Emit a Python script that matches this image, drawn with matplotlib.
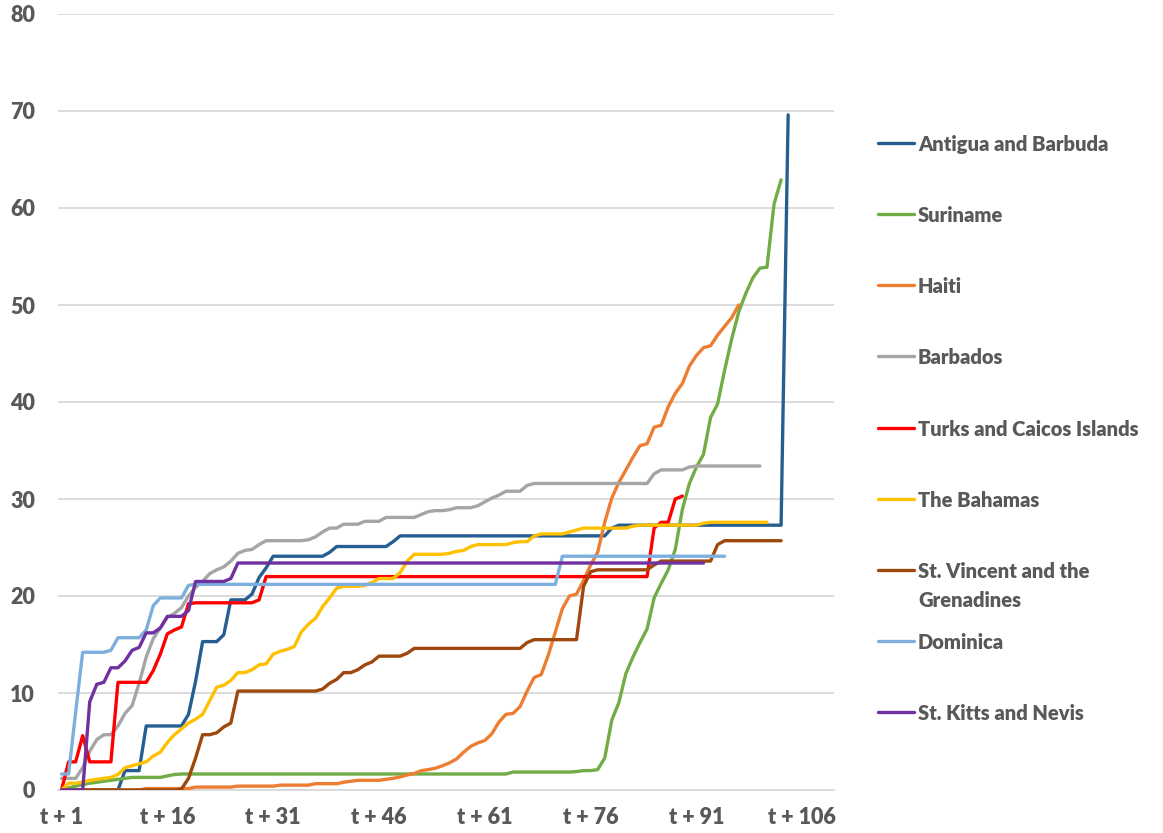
import numpy as np
import matplotlib
matplotlib.use("Agg")
import matplotlib.pyplot as plt
from matplotlib.lines import Line2D

plt.rcParams['font.family'] = ['Lato', 'DejaVu Sans']
plt.rcParams['font.weight'] = 'bold'

# ---------------- data ----------------
n_categories = 110
tick_positions = [0, 15, 30, 45, 60, 75, 90, 105]
tick_labels = ["t + 1", "t + 16", "t + 31", "t + 46", "t + 61", "t + 76", "t + 91", "t + 106"]

antigua = ([0]*9 + [2.0, 2.0, 2.0] + [6.6]*6 + [7.8, 11.2]
           + [15.3]*3 + [16.0] + [19.6]*3 + [20.2, 21.9, 22.9]
           + [24.1]*8 + [24.5] + [25.1]*8 + [25.6]
           + [26.2]*30 + [27.0] + [27.3]*24 + [69.6])

suriname = ([0, 0.2, 0.4, 0.55, 0.7, 0.8, 0.9, 1.0, 1.1, 1.2]
            + [1.3]*5 + [1.45, 1.6] + [1.65]*47 + [1.85]*9
            + [1.9, 2.0, 2.0, 2.1, 3.3, 7.2, 9.0, 12.0, 13.7, 15.2,
               16.6, 19.8, 21.3, 22.7, 24.8, 28.9, 31.6, 33.3, 34.6, 38.4,
               39.8, 43.3, 46.5, 49.3, 51.2, 52.8, 53.8, 53.9, 60.4, 62.9])

haiti = ([0]*12 + [0.15]*7 + [0.3]*6 + [0.4]*6 + [0.5]*5 + [0.65]*4
         + [0.8, 0.9, 1.0, 1.0, 1.0, 1.0]
         + [1.1, 1.2, 1.35, 1.55, 1.7, 2.0, 2.1, 2.25, 2.5, 2.8,
            3.2, 3.9, 4.5, 4.85, 5.1, 5.8, 7.0, 7.8, 7.9, 8.6,
            10.2, 11.6, 11.9, 13.9, 16.3, 18.7, 20.0, 20.2, 21.6, 23.2,
            24.5, 27.6, 30.1, 31.7, 33.0, 34.3, 35.5, 35.7, 37.4, 37.6,
            39.5, 40.9, 41.9, 43.7, 44.8, 45.6, 45.8, 46.9, 47.8, 48.7, 50.0])

barbados = ([1.2, 1.2, 1.2, 2.3, 4.0, 5.2, 5.7, 5.7, 6.6, 7.9,
             8.7, 11.0, 13.7, 15.6, 16.7, 17.8, 18.2, 18.8, 20.0, 20.9,
             21.5, 22.3, 22.7, 23.0, 23.6, 24.4, 24.7, 24.8, 25.3, 25.7]
            + [25.7]*5
            + [25.8, 26.1, 26.6, 27.0, 27.0, 27.4, 27.4, 27.4, 27.7, 27.7,
               27.7, 28.1, 28.1, 28.1, 28.1, 28.1, 28.4, 28.7, 28.8, 28.8, 28.9,
               29.1, 29.1, 29.1, 29.3, 29.7, 30.1, 30.4, 30.8, 30.8, 30.8, 31.4]
            + [31.6]*17 + [32.6, 33.0, 33.0, 33.0, 33.0, 33.3] + [33.4]*10)

turks_caicos = ([0, 2.9, 2.9, 5.6, 2.9, 2.9, 2.9, 2.9] + [11.1]*5
                + [12.3, 14.0, 16.1, 16.5, 16.8, 19.2] + [19.3]*9 + [19.6]
                + [22.0]*55 + [27.0, 27.6, 27.6, 30.0, 30.3])

bahamas = ([0, 0.7, 0.7, 0.8, 1.0, 1.1, 1.2, 1.3, 1.6, 2.3,
            2.5, 2.7, 2.9, 3.5, 3.9, 4.9, 5.7, 6.3, 6.9, 7.3,
            7.8, 9.2, 10.6, 10.8, 11.3, 12.1, 12.1, 12.4, 12.9, 13.0,
            14.0, 14.3, 14.5, 14.8, 16.3, 17.1, 17.7, 18.9, 19.8, 20.8,
            21.0, 21.0, 21.0, 21.1, 21.4, 21.8, 21.8, 21.8, 22.4, 23.6,
            24.3, 24.3, 24.3, 24.3, 24.3, 24.4, 24.6, 24.7, 25.1, 25.3]
           + [25.3]*4 + [25.5, 25.6, 25.6, 26.2, 26.4] + [26.4]*3
           + [26.6, 26.8, 27.0] + [27.0]*6 + [27.2] + [27.3]*9 + [27.5] + [27.6]*9)

st_vincent = ([0]*17 + [0.1, 1.2, 3.3, 5.7, 5.7, 5.9, 6.5, 6.9, 10.2]
              + [10.2]*11
              + [10.4, 11.0, 11.4, 12.1, 12.1, 12.4, 12.9, 13.2, 13.8]
              + [13.8]*3 + [14.1, 14.6] + [14.6]*15 + [15.2] + [15.5]*7
              + [21.0, 22.5] + [22.7]*8 + [23.2] + [23.6]*8 + [25.3] + [25.7]*9)

dominica = ([1.65, 1.65, 8.0, 14.2] + [14.2]*3 + [14.4, 15.7] + [15.7]*3
            + [16.5, 19.0, 19.8] + [19.8]*3 + [21.1] + [21.2]*52 + [24.1]*24)

st_kitts = ([0, 0, 0, 0, 9.1, 10.9, 11.1, 12.6, 12.6, 13.3,
             14.4, 14.7, 16.2, 16.2, 16.7, 17.9, 17.9, 17.9, 18.5, 21.5]
            + [21.5]*4 + [21.8] + [23.4]*67)

series_names = ["Antigua and Barbuda", "Suriname", "Haiti", "Barbados",
                "Turks and Caicos Islands", "The Bahamas",
                "St. Vincent and the\nGrenadines", "Dominica", "St. Kitts and Nevis"]
series_values = [antigua, suriname, haiti, barbados, turks_caicos, bahamas,
                 st_vincent, dominica, st_kitts]
series_colors = ["#255E91", "#70AD47", "#ED7D31", "#A5A5A5", "#FF0000",
                 "#FFC000", "#9E480E", "#7CAFDD", "#7030A0"]
y_ticks = [0, 10, 20, 30, 40, 50, 60, 70, 80]

# ---------------- figure ----------------
W, H = 1163, 833
fig = plt.figure(figsize=(W / 100, H / 100), dpi=100)
left_px, right_px, top_px, bottom_px = 58, 834, 14, 790
ax = fig.add_axes([left_px / W, 1 - bottom_px / H,
                   (right_px - left_px) / W, (bottom_px - top_px) / H])

text_color = "#595959"
grid_color = "#D9D9D9"

for vals, col in zip(series_values, series_colors):
    x = np.arange(len(vals))
    ax.plot(x, vals, color=col, lw=2.4, solid_joinstyle='round',
            solid_capstyle='round', zorder=3)

ax.set_xlim(-0.5, n_categories - 0.5)
ax.set_ylim(0, 80)
ax.set_yticks(y_ticks)
ax.set_yticklabels([str(v) for v in y_ticks])
ax.set_xticks(tick_positions)
ax.set_xticklabels(tick_labels)
ax.yaxis.grid(True, color=grid_color, lw=1.3, zorder=0)
ax.set_axisbelow(True)
for s in ["top", "right", "left"]:
    ax.spines[s].set_visible(False)
ax.spines["bottom"].set_color(grid_color)
ax.spines["bottom"].set_linewidth(1.3)
ax.tick_params(axis='both', length=0, labelsize=15.5, labelcolor=text_color)
ax.tick_params(axis='y', pad=16.5)
ax.tick_params(axis='x', pad=12)
for lab in ax.get_xticklabels() + ax.get_yticklabels():
    lab.set_fontweight('heavy')

# ---------------- legend (manual) ----------------
legend_y_px = [143, 214, 285, 356, 428, 499, 570, 641, 712]
for name, col, ypx in zip(series_names, series_colors, legend_y_px):
    yf = 1 - ypx / H
    fig.add_artist(Line2D([878 / W, 914 / W], [yf, yf], color=col, lw=2.4,
                          solid_capstyle='round', transform=fig.transFigure))
    n_lines = name.count("\n") + 1
    # multi-line labels: shift the block so its first line sits on the marker
    text_y = 1 - (ypx + 9.5 * (n_lines - 1)) / H
    fig.text(918 / W, text_y, name, color=text_color, fontsize=14.5,
             fontweight='heavy', va='center_baseline', ha='left',
             linespacing=1.62)

fig.savefig("out.png", dpi=100)
